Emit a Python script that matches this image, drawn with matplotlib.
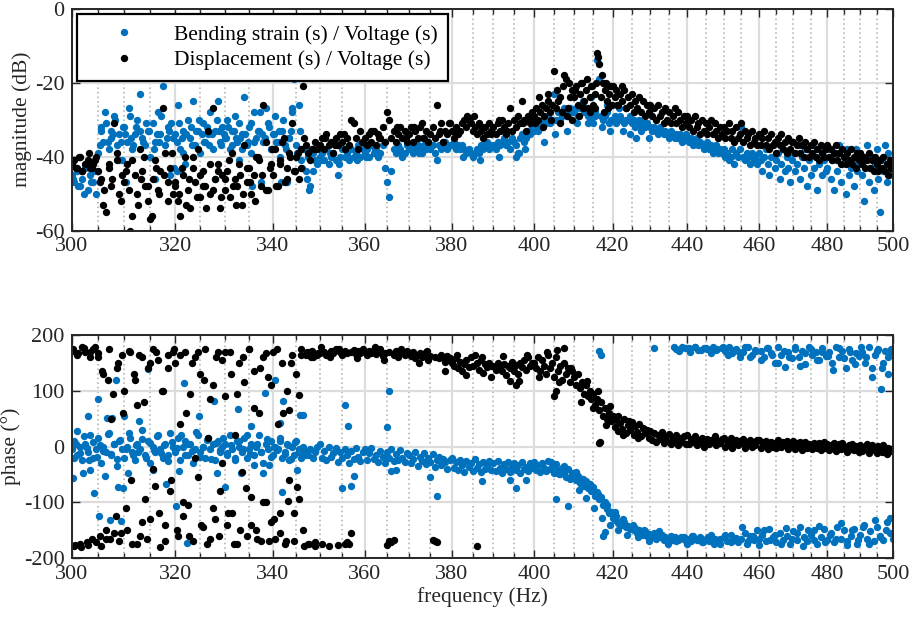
import numpy as np
import matplotlib
matplotlib.use('Agg')
import matplotlib.pyplot as plt
from matplotlib.ticker import FixedLocator, FixedFormatter, NullFormatter

# sampled frequency grid, 0.5 Hz steps from 300 to 500 Hz
freq = 300 + 0.5 * np.arange(401)

# magnitude (dB), bending strain / voltage, one row per 10 Hz
mag_strain = [
    -45, -47, -44, -48, -46, -43, -49, -45, -47, -50, -39, -33, -36, -31, -38, -35, -29, -37, -34, -41,
    -32, -36, -29, -38, -34, -30, -23, -35, -37, -33, -40, -31, -36, -28, -34, -21, -37, -32, -45, -35,
    -34, -26, -38, -33, -42, -30, -35, -25, -37, -33, -39, -31, -36, -34, -28, -38, -33, -25, -36, -32,
    -35, -30, -38, -33, -29, -36, -41, -34, -24, -37, -32, -39, -28, -35, -33, -47, -36, -27, -31, -38,
    -34, -29, -36, -40, -33, -37, -47, -35, -28, -19, -37, -26, -41, -38, -44, -40, -48, -39, -41, -42,
    -40, -39, -41, -38, -42, -40, -39, -41, -45, -40, -38, -40, -39, -41, -38, -40, -39, -37, -40, -38,
    -39, -38, -40, -37, -39, -38, -40, -39, -37, -43, -47, -51, -44, -38, -39, -37, -38, -40, -39, -37,
    -38, -37, -39, -38, -37, -38, -39, -37, -38, -36, -38, -37, -39, -41, -37, -38, -36, -37, -38, -37,
    -37, -36, -38, -37, -38, -37, -38, -39, -38, -39, -40, -39, -38, -39, -37, -38, -37, -36, -38, -37,
    -37, -38, -36, -37, -36, -35, -37, -36, -38, -35, -36, -37, -39, -35, -34, -36, -35, -33, -34, -32,
    -33, -32, -33, -31, -32, -30, -31, -29, -31, -30, -23, -30, -28, -30, -29, -27, -28, -29, -27, -28,
    -28, -27, -29, -27, -26, -28, -27, -29, -28, -30, -31, -29, -14, -19, -29, -30, -29, -28, -31, -30,
    -30, -29, -31, -30, -29, -30, -31, -30, -30, -29, -31, -30, -32, -31, -30, -33, -31, -32, -31, -35,
    -32, -33, -32, -33, -34, -32, -33, -34, -33, -34, -35, -33, -34, -35, -34, -35, -34, -36, -35, -34,
    -35, -36, -35, -37, -36, -35, -37, -36, -37, -38, -37, -36, -38, -37, -39, -38, -37, -39, -38, -39,
    -38, -40, -39, -41, -40, -38, -42, -39, -40, -38, -32, -40, -41, -39, -40, -42, -39, -41, -40, -42,
    -39, -41, -44, -40, -38, -42, -45, -40, -37, -43, -41, -39, -46, -42, -38, -44, -40, -43, -47, -41,
    -39, -44, -42, -37, -46, -40, -43, -38, -48, -41, -45, -37, -43, -40, -49, -42, -38, -45, -41, -44,
    -43, -38, -46, -41, -49, -39, -44, -37, -47, -42, -40, -50, -38, -45, -43, -41, -48, -38, -44, -42,
    -39, -45, -52, -41, -37, -47, -43, -40, -49, -42, -38, -46, -55, -41, -44, -37, -47, -39, -45, -43,
    -44,
]

# magnitude (dB), displacement / voltage
mag_disp = [
    -42, -41, -43, -40, -44, -42, -41, -43, -42, -40, -44, -46, -53, -55, -43, -48, -31, -41, -50, -45,
    -47, -42, -60, -56, -45, -50, -38, -44, -48, -52, -57, -46, -41, -49, -44, -27, -39, -47, -43, -50,
    -48, -52, -56, -45, -40, -49, -54, -43, -47, -38, -51, -44, -48, -33, -50, -27, -46, -42, -54, -45,
    -49, -44, -51, -39, -46, -48, -42, -53, -37, -47, -43, -50, -45, -40, -41, -48, -26, -36, -49, -42,
    -45, -38, -48, -41, -36, -47, -43, -39, -31, -44, -40, -46, -38, -21, -37, -39, -41, -38, -36, -38,
    -37, -35, -38, -34, -37, -36, -39, -35, -37, -34, -36, -38, -35, -37, -30, -31, -35, -38, -33, -36,
    -35, -37, -34, -36, -33, -37, -34, -35, -32, -36, -28, -30, -35, -33, -36, -34, -32, -35, -33, -36,
    -34, -32, -36, -33, -35, -32, -31, -35, -33, -36, -34, -32, -35, -26, -34, -31, -36, -33, -34, -31,
    -33, -35, -32, -34, -33, -31, -30, -32, -30, -31, -33, -32, -34, -31, -33, -35, -32, -34, -31, -33,
    -32, -34, -31, -33, -30, -32, -34, -31, -27, -33, -30, -32, -29, -31, -25, -30, -33, -29, -31, -28,
    -29, -27, -30, -28, -26, -29, -27, -25, -28, -26, -17, -27, -25, -24, -28, -18, -19, -27, -24, -22,
    -24, -21, -26, -23, -20, -25, -22, -27, -24, -21, -26, -23, -12, -15, -24, -20, -22, -25, -23, -21,
    -21, -24, -22, -26, -23, -25, -22, -27, -24, -26, -23, -28, -25, -27, -24, -28, -25, -29, -26, -28,
    -26, -29, -27, -30, -26, -29, -28, -31, -27, -30, -28, -31, -29, -27, -31, -28, -30, -32, -29, -31,
    -29, -32, -30, -33, -29, -32, -31, -34, -30, -33, -31, -34, -32, -30, -34, -31, -33, -35, -32, -34,
    -32, -35, -33, -31, -35, -33, -36, -32, -35, -34, -31, -36, -33, -35, -34, -37, -33, -36, -35, -37,
    -34, -37, -35, -33, -37, -35, -38, -34, -37, -36, -39, -35, -37, -34, -38, -36, -39, -35, -38, -36,
    -36, -39, -37, -35, -39, -37, -40, -36, -38, -40, -37, -39, -36, -40, -38, -41, -37, -39, -40, -38,
    -37, -40, -38, -41, -39, -37, -41, -39, -42, -38, -40, -42, -39, -41, -38, -42, -40, -43, -39, -41,
    -39, -42, -40, -43, -41, -39, -43, -41, -44, -40, -42, -44, -41, -43, -40, -44, -42, -45, -41, -43,
    -42,
]

# phase (deg), bending strain / voltage
ph_strain = [
    -5, 10, -15, 0, -25, 5, -10, 20, -20, -5, 15, -30, 0, -10, 25, -15, 5, -35, 10, -5,
    -20, 0, 15, -10, -25, 5, -5, 30, -15, 10, -30, 0, -10, 20, -5, -20, 5, -15, 25, 0,
    -10, 15, -25, 0, 10, -15, 5, -30, -5, 20, -10, 0, -20, 15, -5, 5, -25, 10, -10, 0,
    5, -15, 20, -5, -25, 10, 0, -10, 15, -20, -5, 5, -15, 0, 20, -10, -30, 5, -5, 10,
    -15, 0, -5, 15, -20, -10, 5, -25, 0, -15, 10, -5, -20, 0, -10, -15, -5, -20, -10, 0,
    5, -20, -8, -25, 0, -18, -12, -2, -28, -10, -20, -4, -15, -30, -8, -22, -3, -18, -26, -10,
    -5, -25, -12, -2, -22, -15, -28, -8, -18, -30, -10, -20, -4, -26, -14, -24, -6, -20, -28, -12,
    -15, -30, -22, -10, -35, -18, -26, -12, -32, -20, -28, -14, -36, -24, -18, -34, -22, -28, -40, -25,
    -20, -38, -28, -42, -24, -34, -45, -26, -36, -30, -44, -22, -38, -32, -46, -28, -40, -34, -26, -42,
    -30, -44, -26, -38, -48, -32, -40, -28, -46, -36, -30, -42, -34, -48, -28, -40, -36, -44, -30, -38,
    -28, -42, -34, -46, -30, -38, -44, -26, -40, -36, -48, -32, -42, -50, -38, -46, -55, -40, -58, -48,
    -55, -60, -52, -65, -58, -70, -62, -75, -68, -80, -72, -88, -82, -95, -90, -105, -100, -112, -120, -118,
    -128, -132, -125, -138, -135, -140, -136, -145, -142, -148, -144, -150, -146, -155, -150, -153, -158, -152, -160, -156,
    -158, -162, -155, -165, -160, -163, -158, -168, -162, -165, -170, -160, -167, -163, 175, -168, -165, 178, -162, -170,
    -165, 176, -170, -160, 178, -168, 174, -163, -172, 177, -166, 175, -170, -158, 179, -165, 173, -168, -175, 176,
    -162, 172, -170, 178, -158, 168, -167, 175, -172, 160, -165, 170, -155, -175, 178, -160, 165, -168, 174, -150,
    -165, 172, -158, 160, -170, 176, -148, 168, -162, 150, -172, 178, -155, 165, -167, 142, -160, 170, -175, 158,
    -152, 175, -168, 160, -145, 172, -163, 148, -170, 178, -158, 165, -150, 170, -175, 155, -162, 176, -148, 162,
    -168, 170, -155, 150, -172, 178, -145, 160, -165, 172, -150, 140, -170, 175, -160, 155, -148, 168, -175, 162,
    -158, 170, -140, 150, -165, 178, -152, 125, -170, 165, -145, 175, -160, 140, -168, 172, -135, 160, -155, 175,
    -165,
]

# phase (deg), displacement / voltage
ph_disp = [
    172, -178, 165, -175, 178, 170, -176, 160, 175, -172, 168, -178, 130, -165, 175, 50, -155, 140, -170, 165,
    100, -150, 170, -175, 120, 75, -160, 160, -95, 140, -130, 175, -70, 155, -180, 100, -140, 165, -80, 170,
    150, -160, 40, -125, 170, -105, 95, -170, 160, -55, 130, -145, 175, 15, -165, 110, -130, 170, -80, 155,
    90, -140, 170, -120, 20, -175, 150, -45, 115, -160, 175, -90, 135, -150, 60, -170, 160, -100, 125, -135,
    170, -165, 40, -120, 150, -175, 100, -60, 165, -170, 130, -95, 175, -150, 165, -175, 170, 160, -172, 165,
    168, -175, 170, 165, -178, 172, 168, 175, -176, 170, 165, 172, 168, -175, 170, 174, 166, 172, 168, 175,
    170, 165, 172, 168, 174, 166, 170, 175, 162, 168, -176, 170, -172, 165, 172, 160, 168, 170, 164, 172,
    166, 162, 170, 158, 165, 168, 160, 164, 170, 155, 162, -167, 160, -172, 158, 165, 160, 152, 162, 158,
    150, 145, 158, 140, 152, 135, 148, 155, 142, 160, 145, 165, 150, 138, 155, 132, 148, 142, 150, 145,
    145, 138, 150, 142, 135, 148, 128, 145, 140, 152, 135, 146, 130, 150, 142, 155, 138, 160, 145, 150,
    150, 140, 160, 135, 155, 145, 130, 165, 140, 150, 125, 160, 135, 145, 120, 150, 130, 140, 115, 135,
    125, 110, 130, 105, 115, 95, 110, 90, 100, 85, 95, 75, 85, 65, 80, 55, 70, 50, 60, 45,
    55, 35, 48, 28, 42, 32, 50, 25, 38, 30, 44, 20, 36, 26, 40, 18, 34, 24, 30, 16,
    28, 12, 24, 8, 20, 14, 26, 6, 18, 10, 22, 4, 16, 12, 20, 2, 15, 8, 18, 5,
    20, 4, 14, 8, 18, 2, 12, 6, 16, 0, 10, 14, 4, 12, 8, 18, 2, 10, 6, 14,
    15, 0, 10, 4, 16, -2, 8, 12, 2, 10, 6, 14, -3, 9, 4, 12, 0, 8, 3, 11,
    12, -2, 8, 2, 10, -4, 6, 9, 0, 7, -3, 11, 4, -1, 8, 2, 10, -5, 6, 3,
    10, -4, 6, -1, 8, -6, 4, 9, -2, 5, 0, -5, 7, 1, -3, 6, -7, 3, 8, -2,
    5, -6, 3, -2, 7, -8, 1, 4, -5, 6, -3, 0, -9, 2, -4, 5, -7, 1, -2, -10,
    3, -8, 0, -4, 5, -11, -2, 2, -7, -1, -12, 1, -5, -9, 3, -6, -13, -2, -8, -4,
    -5,
]

# extra scattered points (frequency, value) that sit off the 0.5 Hz grid
mag_strain_extra = [
    (300.3, -46), (301.2, -48), (302.4, -50), (303.7, -47), (304.3, -44), (305.6, -32), (306.3, -28),
    (306.8, -36), (307.4, -33), (308.2, -30), (308.9, -41), (309.3, -36), (310.2, -34), (310.8, -27),
    (311.7, -37), (312.3, -32), (313.6, -36), (314.2, -31), (314.8, -33), (315.7, -38), (316.3, -34),
    (317.2, -29), (318.3, -35), (319.1, -31), (319.7, -43), (320.3, -36), (320.8, -31), (321.6, -39),
    (322.2, -34), (323.4, -37), (324.1, -33), (324.8, -30), (325.7, -36), (326.3, -32), (327.3, -34),
    (328.3, -30), (329.2, -37), (329.8, -34), (330.6, -32), (331.4, -37), (332.2, -35), (332.9, -31),
    (333.6, -38), (334.2, -34), (335.3, -31), (336.1, -36), (336.8, -33), (337.3, -28), (338.4, -35),
    (339.1, -32), (339.7, -38), (340.6, -36), (341.3, -33), (342.2, -30), (342.8, -38), (343.4, -35),
    (344.1, -27), (345.2, -39), (345.8, -33), (346.3, -43), (347.2, -46), (347.8, -49), (348.6, -44),
    (310.4, -47), (315.9, -46), (320.4, -44), (327.9, -46), (335.7, -48), (341.7, -47),
    (305.3, -37), (307.9, -34), (309.7, -32), (311.2, -35), (313.1, -33), (316.8, -36), (318.8, -33),
    (321.3, -35), (323.1, -32), (325.3, -34), (326.8, -37), (328.8, -33), (330.2, -35), (331.8, -33),
    (333.2, -35), (334.8, -36), (337.8, -34), (340.2, -34), (341.9, -36), (343.8, -33), (346.8, -38),
    (350.3, -41), (352.3, -39), (354.3, -42), (356.3, -40), (358.3, -41), (360.3, -40), (362.3, -38),
    (368.3, -39), (372.3, -39), (378.3, -36),
    (382.6, -40), (386.8, -41), (391.4, -40), (395.4, -40), (396.3, -39), (397.6, -38),
    (402.4, -36), (403.6, -30), (405.2, -34), (406.6, -28), (408.3, -33), (410.7, -31), (412.2, -25),
    (413.6, -31), (414.4, -24), (415.3, -28), (417.3, -32), (418.4, -26), (419.3, -33), (421.6, -27),
    (422.7, -33), (424.6, -34), (426.2, -35), (427.4, -32),
]

mag_disp_extra = [
    (300.2, -41), (300.8, -43), (301.3, -40), (301.9, -44), (302.6, -42), (303.2, -39), (303.8, -43),
    (304.4, -41), (305.3, -47), (306.1, -49), (307.1, -42), (307.6, -46), (308.6, -39), (309.4, -52),
    (310.3, -44), (310.9, -49), (311.4, -41), (312.6, -53), (313.2, -46), (313.8, -40), (314.6, -48),
    (315.3, -56), (316.1, -43), (316.8, -50), (317.8, -45), (318.6, -52), (319.3, -39), (319.9, -47),
    (320.7, -50), (321.4, -43), (322.1, -53), (322.8, -46), (323.6, -40), (324.3, -51), (324.9, -45),
    (325.6, -48), (326.2, -54), (326.9, -42), (327.6, -49), (328.6, -44), (329.3, -51), (330.1, -46),
    (330.8, -41), (331.6, -48), (332.3, -53), (333.1, -45), (333.8, -50), (334.6, -43), (335.2, -47),
    (336.3, -52), (336.9, -40), (337.7, -45), (338.6, -49), (339.3, -43), (339.9, -38), (340.7, -48),
    (341.6, -42), (342.4, -35), (343.1, -46), (343.7, -40), (344.6, -44), (345.3, -39), (345.9, -43),
    (346.6, -35), (383.6, -29), (384.2, -30), (385.2, -29),
    (348.3, -38), (351.3, -35), (353.3, -37), (355.3, -34), (359.3, -36), (361.3, -33), (363.3, -35),
    (367.3, -32), (369.3, -35), (371.3, -32), (373.3, -35), (377.3, -33), (379.3, -31), (381.3, -34),
    (387.3, -32), (389.3, -34), (391.3, -30), (393.3, -33), (397.3, -31), (399.3, -30),
    (400.3, -31), (401.2, -24), (402.3, -32), (403.4, -23), (404.2, -30), (405.7, -22), (406.4, -31),
    (407.3, -21), (408.2, -29), (408.8, -20), (409.6, -30), (410.3, -22), (411.2, -29), (411.8, -20),
    (412.4, -27), (413.3, -19), (414.1, -28), (414.7, -21), (415.4, -27), (415.8, -20), (416.2, -13),
    (417.2, -18), (417.7, -28), (418.3, -20), (418.8, -27), (419.3, -21), (419.8, -26), (421.2, -26),
    (422.4, -21), (423.6, -27),
]

ph_strain_extra = [
    (300.2, -56), (301.0, 28), (302.1, -48), (303.1, 55), (303.5, -42), (304.2, -83), (305.0, 85),
    (305.2, -125), (306.3, -53), (306.6, 51), (307.2, -131), (307.7, 51), (308.4, 120), (308.8, -73),
    (309.4, -133), (309.8, -74), (310.0, 54), (310.7, -48), (312.9, 45), (314.6, 139), (315.5, -42),
    (318.1, -68), (320.1, -106), (320.7, -43), (321.7, 114), (322.3, -173), (324.7, 55), (327.7, 81),
    (328.4, -48), (330.0, -73), (332.7, 67), (333.3, -48), (335.4, 36), (336.0, -33), (338.0, -48),
    (338.4, 96), (339.1, -34), (340.5, 119), (341.4, 42), (341.9, -81), (342.1, 81), (345.8, 57),
    (345.2, -42), (346.5, 56), (355.0, -74), (355.5, 75), (356.2, 36), (356.9, -70), (357.6, -53),
    (365.0, 35), (365.4, 100), (366.0, -44), (367.0, -42), (375.0, -55), (376.5, -88), (387.3, -62),
    (394.0, -60), (395.5, -74), (398.0, -60), (405.5, -95), (408.4, -107), (416.5, 171), (417.0, 165),
    (417.5, -161), (418.0, -154), (431.0, 177),
    (300.4, -20), (300.9, 5), (301.6, -12), (302.3, 18), (302.8, -3), (303.3, -25), (304.1, 8),
    (304.7, -18), (305.4, 2), (306.0, -8), (306.9, 22), (307.5, -14), (308.0, 5), (308.6, -22),
    (309.2, 12), (310.3, -4), (310.9, 24), (311.6, -16), (312.2, 3), (312.7, -9), (313.4, 14),
    (314.1, -21), (314.9, 6), (315.7, -6), (316.4, 18), (317.1, -12), (317.8, 2), (318.6, -26),
    (319.3, 9), (320.4, -2), (321.1, 20), (321.9, -15), (322.6, 4), (323.3, -8), (324.1, 26),
    (324.9, -18), (325.6, 0), (326.3, 12), (327.1, -22), (328.1, 6), (328.9, -6), (329.6, 16),
    (330.5, -12), (331.2, 3), (332.0, -20), (332.9, 10), (333.8, -4), (334.5, 20), (335.1, -14),
    (336.7, 5), (337.5, -10), (338.8, 14), (339.6, -18), (340.2, 0), (340.9, -7), (341.6, 10),
    (342.6, -14), (343.2, 3), (343.9, -22), (344.6, 8), (345.6, -10), (346.2, -2), (346.9, -16),
    (404.3, -28), (406.2, -50), (407.4, -35), (409.3, -55), (410.6, -45), (411.4, -78), (412.3, -58),
    (413.2, -92), (414.3, -72), (415.2, -110), (416.2, -85), (417.3, -128), (418.6, -105),
    (419.4, -140), (420.6, -118), (421.3, -150), (422.6, -130), (423.8, -158), (425.3, -140),
    (426.7, -162), (428.2, -150), (429.6, -170), (432.3, -152), (434.6, -175),
    (436.3, 178), (437.8, 172), (439.2, 176), (440.7, 170), (442.2, 179), (443.6, 173), (445.1, 177),
    (446.6, 168), (448.2, 175), (449.7, 179), (451.3, 165), (452.8, 174), (454.4, 170), (455.9, 178),
    (457.5, 160), (459.1, 172), (460.7, 155), (462.3, 176), (463.9, 165), (465.5, 150), (467.1, 172),
    (468.7, 160), (470.3, 178), (471.9, 145), (473.5, 168), (475.1, 175), (476.8, 155), (478.4, 170),
    (480.1, 162), (481.7, 138), (483.4, 176), (485.1, 158), (486.8, 170), (488.4, 148), (490.1, 178),
    (491.8, 160), (493.5, 140), (495.2, 172), (496.4, 104), (496.9, 150), (498.6, 130), (499.4, 170),
    (436.8, -170), (438.3, -163), (439.8, -175), (441.3, -160), (442.8, -168), (444.3, -172),
    (445.8, -162), (447.4, -175), (448.9, -166), (450.5, -158), (452.1, -172), (453.6, -164),
    (455.2, -145), (456.8, -170), (458.3, -160), (459.9, -176), (461.5, -150), (463.1, -168),
    (464.7, -158), (466.3, -174), (467.9, -146), (469.5, -165), (471.1, -155), (472.7, -178),
    (474.3, -150), (475.9, -168), (477.6, -142), (479.2, -172), (480.9, -158), (482.5, -165),
    (484.2, -138), (485.9, -176), (487.5, -150), (489.2, -168), (490.9, -145), (492.6, -175),
    (494.3, -132), (496.0, -162), (497.7, -150), (499.2, -128),
]

ph_disp_extra = [
    (300.3, 175), (300.7, -176), (301.2, 168), (301.8, -180), (302.3, 176), (302.8, -172), (303.5, 170),
    (303.9, -165), (304.4, 178), (304.9, 160), (305.4, -160), (305.8, 135), (306.4, -150), (306.9, 120),
    (307.3, -165), (307.8, 95), (308.3, -125), (308.8, 150), (309.3, -155), (309.8, 60), (310.3, -110),
    (310.8, 172), (311.3, -60), (311.9, 130), (312.4, -175), (312.9, 165), (313.4, -135), (313.9, 80),
    (314.4, -165), (314.9, 150), (315.6, -40), (316.2, 170), (316.7, -120), (317.3, 100), (317.9, -170),
    (318.5, 140), (319.1, -60), (319.7, 175), (320.3, -150), (320.9, 165), (321.5, -100), (322.1, 60),
    (322.7, -160), (323.3, 150), (323.9, -20), (324.5, 170), (325.1, -140), (325.7, 120), (326.4, -175),
    (327.0, 85), (327.6, -110), (328.2, 160), (328.8, -160), (329.4, -30), (330.1, 170), (330.7, -120),
    (331.3, 130), (331.9, -175), (332.5, 95), (333.1, -150), (333.7, 160), (334.3, -75), (334.9, 175),
    (335.5, -140), (336.1, 70), (336.7, -165), (337.3, 140), (337.9, -100), (338.5, 168), (339.1, -170),
    (339.7, 110), (340.3, -130), (340.9, 175), (341.5, -155), (342.1, 60), (342.7, -170), (343.3, -98),
    (343.4, 66), (343.9, 150), (344.5, -120), (345.2, -73), (345.5, 93), (346.1, 165), (346.6, -178),
    (347.2, 170), (347.8, -175), (348.4, 172), (349.0, -178), (349.6, 168),
    (355.5, -175), (356.0, -172), (357.0, -155), (365.5, -170), (366.5, -168), (376.0, -170),
    (386.0, -178), (416.4, 6), (416.7, 9), (405.0, 90), (405.5, 100), (405.8, 174), (407.6, 177),
    (394.0, 117), (395.5, 111),
    (348.2, 160), (350.3, 178), (352.3, 160), (354.3, 175), (358.3, 158), (362.3, 178), (364.3, 155),
    (368.3, 175), (372.3, 150), (374.3, 172), (378.3, 135), (381.3, 165), (383.3, 128), (387.3, 160),
    (389.3, 125), (392.3, 162), (396.3, 118), (398.3, 165), (401.3, 125), (403.3, 170), (406.3, 115),
    (409.3, 140), (411.8, 80), (413.3, 118), (414.8, 70), (416.2, 100), (418.3, 38), (419.2, 72),
    (421.3, 55), (422.8, 20), (424.3, 45), (426.8, 15), (428.3, 32),
]

for name, arr in [('mag_strain', mag_strain), ('mag_disp', mag_disp),
                  ('ph_strain', ph_strain), ('ph_disp', ph_disp)]:
    assert len(arr) == len(freq), (name, len(arr))

labels = ['Bending strain (s) / Voltage (s)', 'Displacement (s) / Voltage (s)']
colors = ['#0072BD', 'black']
xticks = list(range(300, 501, 20))


def join(main, extra):
    f = np.concatenate([freq, [p[0] for p in extra]])
    v = np.concatenate([main, [p[1] for p in extra]])
    return f, v


plt.rcParams['font.family'] = ['Liberation Serif', 'DejaVu Serif']
plt.rcParams['axes.unicode_minus'] = False
plt.rcParams['font.size'] = 15.5

fig = plt.figure(figsize=(9.14, 6.21), dpi=100)
ax1 = fig.add_axes([0.0784, 0.6288, 0.8986, 0.3575])
ax2 = fig.add_axes([0.0784, 0.1014, 0.8986, 0.3591])

panels = [
    (ax1, [join(mag_strain, mag_strain_extra), join(mag_disp, mag_disp_extra)]),
    (ax2, [join(ph_strain, ph_strain_extra), join(ph_disp, ph_disp_extra)]),
]

minor = [f for f in range(305, 500, 5) if f % 20 != 0]

for ax, series in panels:
    for (f, v), c, lab in zip(series, colors, labels):
        ax.plot(f, v, linestyle='none', marker='o', ms=5.3, mew=0,
                color=c, label=lab)
    ax.set_xscale('log')
    ax.set_xlim(300, 500)
    ax.xaxis.set_major_locator(FixedLocator(xticks))
    ax.xaxis.set_major_formatter(FixedFormatter([str(t) for t in xticks]))
    ax.xaxis.set_minor_locator(FixedLocator(minor))
    ax.xaxis.set_minor_formatter(NullFormatter())
    ax.set_axisbelow(True)
    ax.grid(which='major', color='#dcdcdc', lw=1.6, ls='-')
    ax.grid(which='minor', axis='x', color='#aaaaaa', lw=1.1, ls=(0, (1, 2)))
    ax.tick_params(which='both', direction='in', top=True, right=True,
                   colors='#262626', width=1.0, labelsize=16)
    ax.tick_params(which='major', length=6)
    ax.tick_params(which='minor', length=3.5)
    ax.tick_params(axis='x', pad=5)
    ax.tick_params(axis='y', pad=5)
    for s in ax.spines.values():
        s.set_linewidth(1.4)
        s.set_color('#262626')

ax1.set_ylim(-60, 0)
ax1.set_yticks([-60, -40, -20, 0])
ax1.set_ylabel('magnitude (dB)', color='#262626', labelpad=2)

ax2.set_ylim(-200, 200)
ax2.set_yticks([-200, -100, 0, 100, 200])
ax2.set_ylabel('phase (°)', color='#262626', labelpad=2)
ax2.set_xlabel('frequency (Hz)', color='#262626', labelpad=2)

leg = ax1.legend(loc='upper left', frameon=True, fancybox=False, framealpha=1,
                 edgecolor='black', borderpad=0.5, handlelength=3.4,
                 handletextpad=0.6, labelspacing=0.25, borderaxespad=0.25)
leg.get_frame().set_linewidth(1.6)
leg.set_zorder(10)

fig.savefig('out.png', dpi=100)
